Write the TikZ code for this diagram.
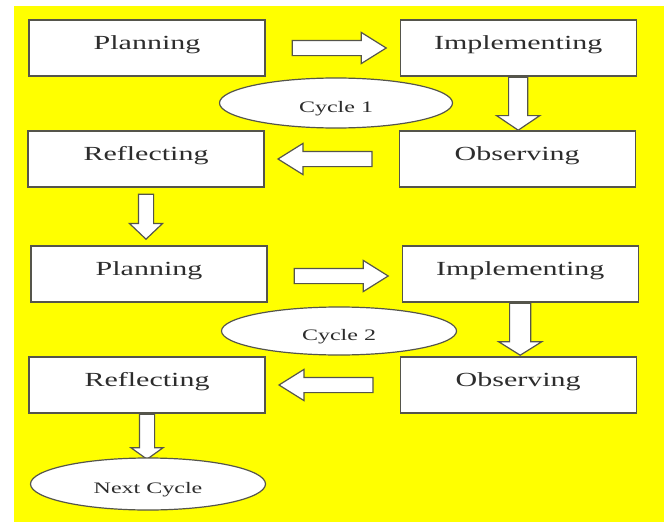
\documentclass[tikz,border=0pt]{standalone}
\usepackage{fontspec}
\newfontfamily\stagefont{Liberation Serif}[FakeStretch=1.5]
\usetikzlibrary{shapes.geometric,shapes.arrows,positioning,calc}
\definecolor{bgyellow}{RGB}{255,255,0}
\definecolor{edge}{RGB}{85,85,75}
\definecolor{ink}{RGB}{45,45,45}
\tikzset{
    stage/.style={rectangle,draw=edge,fill=white,line width=1.2pt,minimum width=236pt,minimum height=56pt,inner sep=0pt,text height=13pt,text depth=10pt},
    cyclenode/.style={ellipse,draw=edge,fill=white,line width=1.2pt,inner sep=0pt,node font=\stagefont\fontsize{16}{19}\selectfont},
    blockarrow/.style={single arrow,draw=edge,fill=white,line width=1.2pt,anchor=tail,single arrow head indent=0pt},
    rightarrow/.style={blockarrow,minimum height=94pt,inner sep=7pt,single arrow head extend=8pt,single arrow tip angle=64},
    leftarrow/.style={rightarrow,shape border rotate=180},
    downarrow/.style={blockarrow,shape border rotate=270},
}

\begin{document}
\begin{tikzpicture}[
    x=1pt,y=-1pt,
    every node/.style={text=ink,node font=\stagefont\fontsize{20}{24}\selectfont},
]
    \fill [white] (0,0) rectangle (664,522);
    \fill [bgyellow] (14,6) rectangle (664,522);
    % first cycle
    \node [stage] (plan1) at (147,48) {Planning};
    \node [stage,right=134pt of plan1] (impl1) {Implementing};
    \node [stage] (refl1) at (146,159) {Reflecting};
    \node [stage,right=134pt of refl1] (obs1) {Observing};
    \node [cyclenode,minimum width=233pt,minimum height=50pt] (cyc1) at (336,103) {\raisebox{-9pt}[0pt][0pt]{Cycle 1}};
    \node [rightarrow] (go1) at ([xshift=26pt]plan1.east) {};
    \node [downarrow,minimum height=53pt,inner sep=9pt,single arrow head extend=12pt,single arrow tip angle=112] (down1) at (impl1.south) {};
    \node [leftarrow] (back1) at ([xshift=-26pt]obs1.west) {};
    \node [downarrow,minimum height=45pt,inner sep=7pt,single arrow head extend=9pt,single arrow tip angle=93] (next1) at ([yshift=-6pt]refl1.south) {};
    % second cycle
    \node [stage] (plan2) at (149,274) {Planning};
    \node [stage,right=134pt of plan2] (impl2) {Implementing};
    \node [stage] (refl2) at (147,385) {Reflecting};
    \node [stage,right=134pt of refl2] (obs2) {Observing};
    \node [cyclenode,minimum width=235pt,minimum height=48pt] (cyc2) at (339,331) {\raisebox{-9pt}[0pt][0pt]{Cycle 2}};
    \node [rightarrow] (go2) at ([xshift=26pt,yshift=-2pt]plan2.east) {};
    \node [downarrow,minimum height=52pt,inner sep=10pt,single arrow head extend=11pt,single arrow tip angle=116] (down2) at (impl2.south) {};
    \node [leftarrow] (back2) at ([xshift=-26pt]obs2.west) {};
    \node [downarrow,minimum height=45pt,inner sep=7pt,single arrow head extend=8.5pt,single arrow tip angle=109] (next2) at (refl2.south) {};
    \node [cyclenode,minimum width=235pt,minimum height=52pt] (nextcyc) at (148,484) {\raisebox{-9pt}[0pt][0pt]{Next Cycle}};
\end{tikzpicture}
\end{document}
